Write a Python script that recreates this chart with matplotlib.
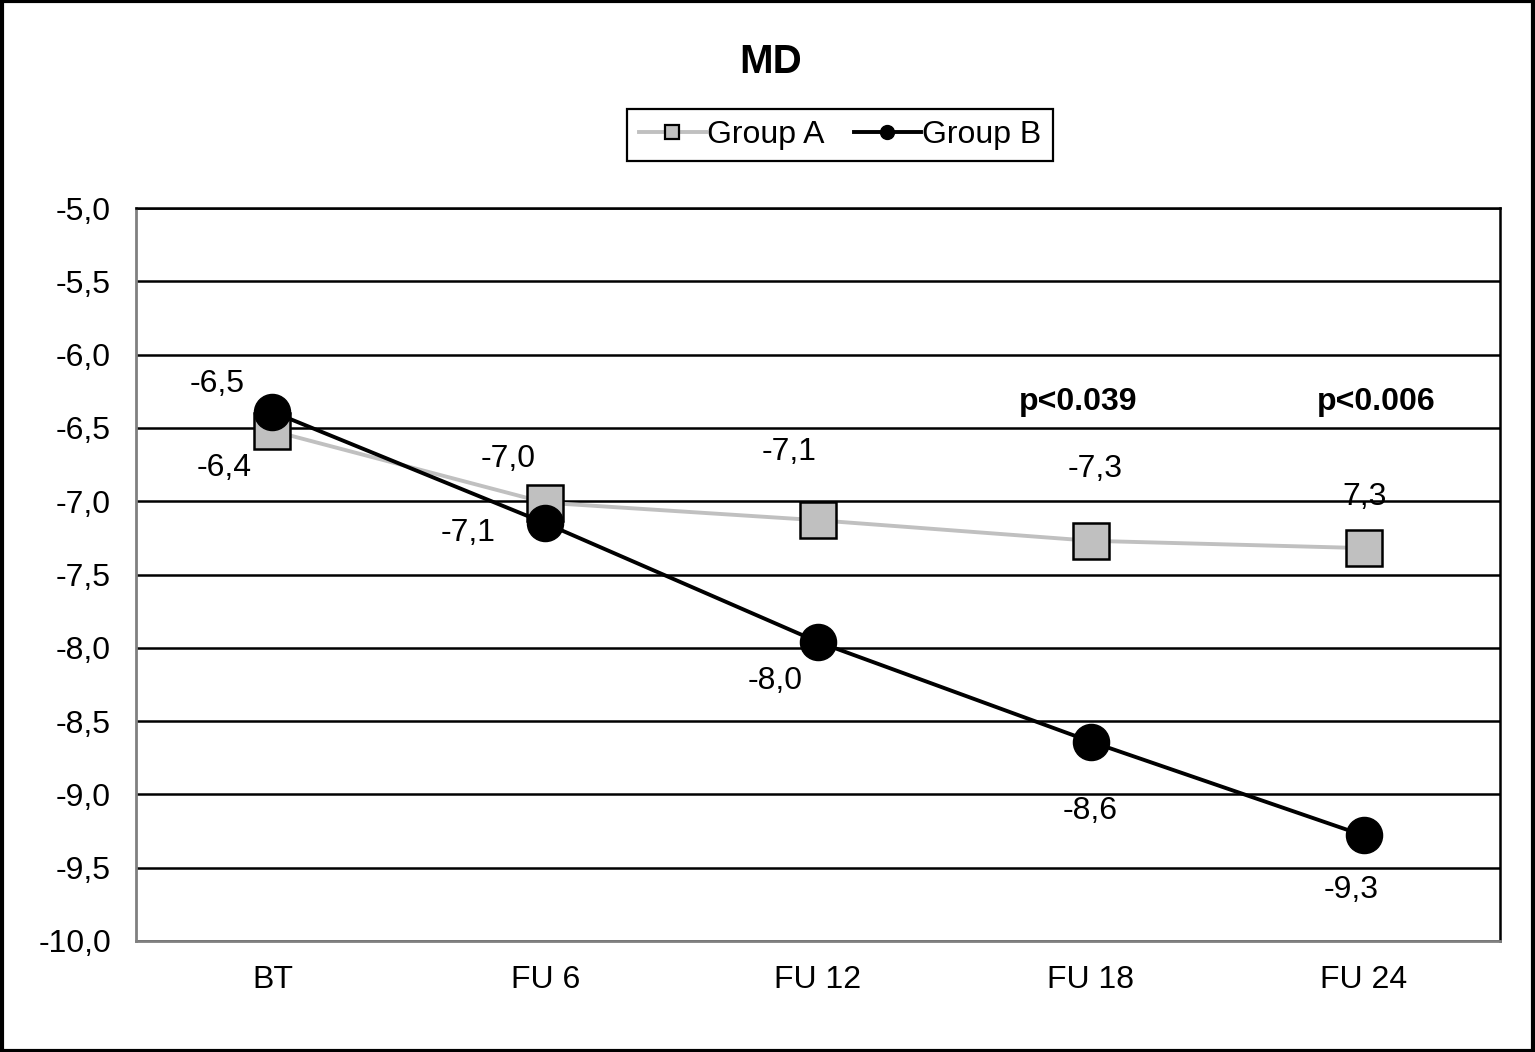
import matplotlib
matplotlib.use('Agg')
import matplotlib.pyplot as plt
from matplotlib.lines import Line2D
from matplotlib.patches import Rectangle

plt.rcParams['font.family'] = ['Liberation Sans', 'DejaVu Sans']

# data
visits   = ['BT', 'FU 6', 'FU 12', 'FU 18', 'FU 24']
groupA   = [-6.52, -7.01, -7.13, -7.27, -7.32]
groupB   = [-6.39, -7.15, -7.96, -8.64, -9.28]
labelsA  = ['-6,5', '-7,0', '-7,1', '-7,3', '7,3']
labelsB  = ['-6,4', '-7,1', '-8,0', '-8,6', '-9,3']
pvals    = ['p<0.039', 'p<0.006']
pval_pos = [3, 4]

# label offsets (pixels)
offA = [(-55, 47), (-37, 44), (-29, 68), (4, 72), (1, 51)]
offB = [(-48, -56), (-77, -10), (-43, -39), (-1, -69), (-12, -55)]

FS = 23

fig = plt.figure(figsize=(15.35, 10.52), dpi=100)
ax = fig.add_axes([136/1535, 1-941/1052, (1500-136)/1535, (941-208)/1052])

x = list(range(len(visits)))
ax.plot(x, groupA, '-', color='#c0c0c0', lw=2.8, marker='s', ms=26,
        mfc='#c0c0c0', mec='black', mew=1.8, zorder=3)
ax.plot(x, groupB, '-', color='black', lw=2.8, marker='o', ms=26,
        mfc='black', mec='black', zorder=4)

for i in x:
  ax.annotate(labelsA[i], (i, groupA[i]), xytext=offA[i], textcoords='offset pixels',
              ha='center', va='center', fontsize=FS, zorder=5)
  ax.annotate(labelsB[i], (i, groupB[i]), xytext=offB[i], textcoords='offset pixels',
              ha='center', va='center', fontsize=FS, zorder=5)

for p, k in zip(pvals, pval_pos):
  ax.annotate(p, (k, -5.0), xytext=(-13 if k == 3 else 13, -194), textcoords='offset pixels',
              ha='center', va='center', fontsize=FS, fontweight='bold')

ax.set_xlim(-0.5, 4.5)
ax.set_ylim(-10, -5)
ax.set_xticks(x)
ax.set_xticklabels(visits)
yt = [-10 + 0.5*k for k in range(11)]
ax.set_yticks(yt)
ax.set_yticklabels([f'{v:.1f}'.replace('.', ',') for v in yt])
ax.tick_params(length=0, labelsize=FS)
ax.tick_params(axis='y', pad=18)
ax.tick_params(axis='x', pad=17)
ax.grid(axis='y', color='black', lw=1.8)
ax.set_axisbelow(True)
for s in ['left', 'bottom']:
  ax.spines[s].set_color('#808080')
  ax.spines[s].set_linewidth(2)
for s in ['top', 'right']:
  ax.spines[s].set_color('black')
  ax.spines[s].set_linewidth(1.8)

fig.text(771/1535, 1-62/1052, 'MD', ha='center', va='center', fontsize=29, fontweight='bold')

handles = [Line2D([], [], color='#c0c0c0', lw=2.8, marker='s', ms=10, mfc='#c0c0c0', mec='black', mew=1.6),
           Line2D([], [], color='black', lw=2.8, marker='o', ms=10, mfc='black')]
leg = fig.legend(handles, ['Group A', 'Group B'], loc='center', bbox_to_anchor=(840/1535, 1-135/1052),
                 ncol=2, fontsize=FS, frameon=True, fancybox=False, framealpha=1,
                 edgecolor='black', handlelength=2.1, handletextpad=0.05, columnspacing=0.9,
                 borderpad=0.35)
leg.get_frame().set_linewidth(1.6)

fig.patches.append(Rectangle((0.001, 0.001), 0.998, 0.998, transform=fig.transFigure,
                             fill=False, edgecolor='black', lw=3))

fig.savefig('out.png', dpi=100)
